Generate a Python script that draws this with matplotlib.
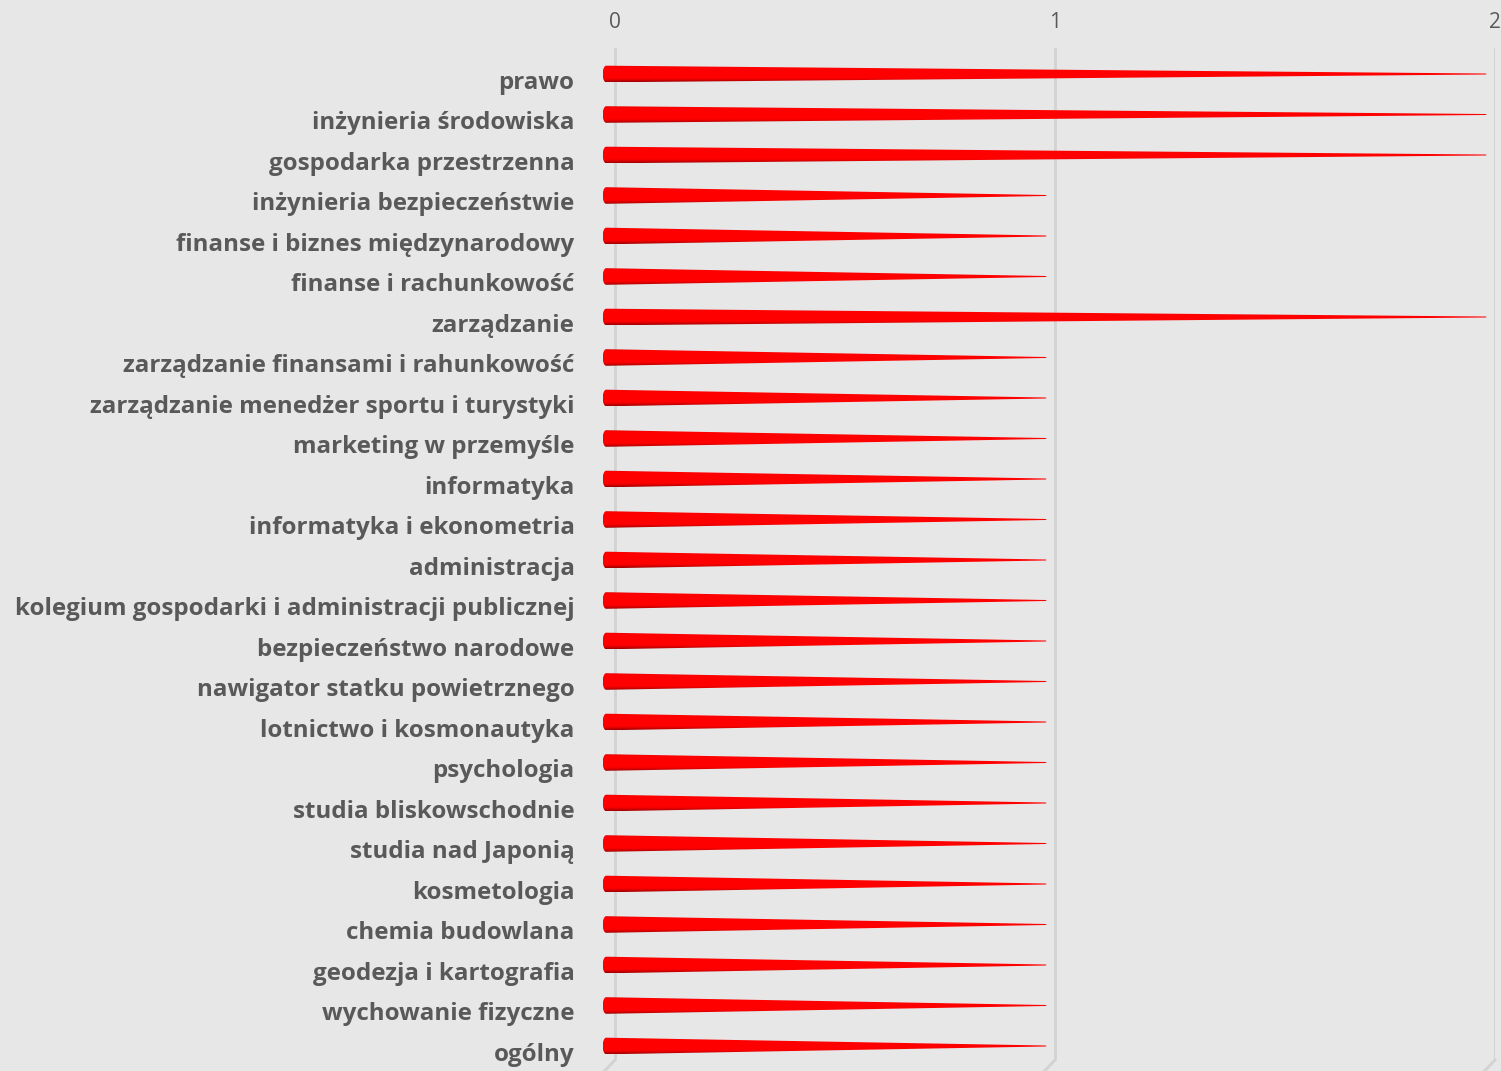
import numpy as np
import matplotlib
matplotlib.use("Agg")
import matplotlib.pyplot as plt
from matplotlib.patches import Polygon
from matplotlib.lines import Line2D

categories = [
    "prawo", "inżynieria środowiska", "gospodarka przestrzenna",
    "inżynieria bezpieczeństwie", "finanse i biznes międzynarodowy",
    "finanse i rachunkowość", "zarządzanie",
    "zarządzanie finansami i rahunkowość",
    "zarządzanie menedżer sportu i turystyki", "marketing w przemyśle",
    "informatyka", "informatyka i ekonometria", "administracja",
    "kolegium gospodarki i administracji publicznej",
    "bezpieczeństwo narodowe", "nawigator statku powietrznego",
    "lotnictwo i kosmonautyka", "psychologia", "studia bliskowschodnie",
    "studia nad Japonią", "kosmetologia", "chemia budowlana",
    "geodezja i kartografia", "wychowanie fizyczne", "ogólny",
]
values = [2, 2, 2, 1, 1, 1, 2, 1, 1, 1, 1, 1, 1, 1, 1, 1, 1, 1, 1, 1, 1, 1, 1, 1, 1]
ticks = [0, 1, 2]

bg = "#E7E7E7"
text_col = "#595959"
grid_col = "#D2D2D2"

fig = plt.figure(figsize=(15.01, 10.71), dpi=100)
fig.patch.set_facecolor(bg)
W, H = 1501, 1071
ppu = 440.0  # pixels per unit on the value axis
xmin = -20 / ppu
ax = fig.add_axes([595 / W, 1 - 1060 / H, 900 / W, (1060 - 48) / H])
ax.set_facecolor(bg)
n = len(categories)
ylim = (n - 1 + 14 / 40.5, -26 / 40.5)
for s in ax.spines.values():
    s.set_visible(False)

# vertical gridlines with a small "floor" kink at the bottom
for t in ticks:
    ax.axvline(t, color=grid_col, lw=2, zorder=0)
    ax.add_line(Line2D([t, t - 0.026], [0.0, -0.012], transform=ax.get_xaxis_transform(),
                       color=grid_col, lw=2, clip_on=False))

ax.xaxis.tick_top()
ax.set_xticks(ticks)
ax.set_xticklabels([str(t) for t in ticks], fontsize=15, color=text_col, family="Open Sans")
ax.tick_params(axis="x", length=0, pad=11)
ax.set_yticks([])

# cones (3D look: shifted a bit left of the gridlines, vertical shading)
off = -0.02
half = 0.205
ng = 80
g = np.linspace(0, 1, ng)
shade = np.ones(ng)
shade -= 0.4 * np.clip((g - 0.75) / 0.25, 0, 1) ** 1.5
shade -= 0.12 * np.clip((0.1 - g) / 0.1, 0, 1)
img = np.zeros((ng, 2, 3))
img[:, :, 0] = shade[:, None]
bulge = 0.008
th = np.linspace(np.pi / 2, 3 * np.pi / 2, 20)
for i, v in enumerate(values):
    x0 = off
    x1 = v + off
    arc = [[x0 + bulge * np.cos(a), i - half * np.sin(a)] for a in th]
    pts = [[x0, i - half], [x1, i - 0.012], [x1, i + 0.012], [x0, i + half]]
    pts = pts + arc[::-1][1:]
    poly = Polygon(pts, closed=True, facecolor="none", edgecolor="none",
                   transform=ax.transData)
    im = ax.imshow(img, extent=[x0 - bulge, x1, i + half, i - half], aspect="auto",
                   interpolation="bilinear", zorder=2)
    im.set_clip_path(poly)

ax.set_xlim(xmin, 2)
ax.set_ylim(*ylim)

for i, c in enumerate(categories):
    ax.text(-0.092, i + 0.21, c, ha="right", va="center", fontsize=17.4, fontweight="bold",
            color=text_col, family="Open Sans", clip_on=False)

fig.savefig("out.png", dpi=100, facecolor=bg)
